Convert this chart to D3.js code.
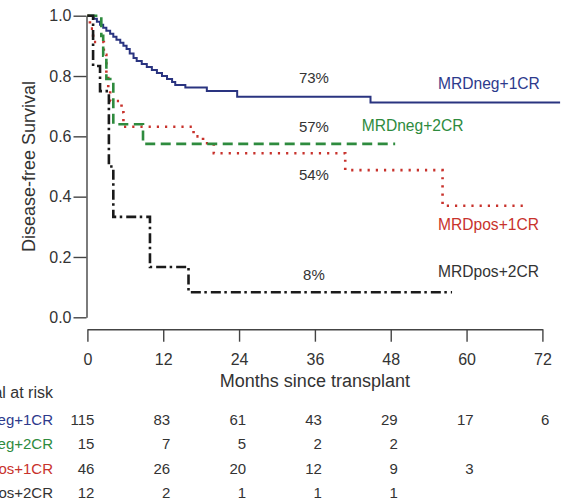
<!DOCTYPE html>
<html>
<head>
<meta charset="utf-8">
<script src="https://cdn.jsdelivr.net/npm/d3@7/dist/d3.min.js"></script>
<style>
  html, body { margin: 0; padding: 0; background: #fff; }
  svg text { font-family: "Liberation Sans", Arial, sans-serif; }
</style>
</head>
<body>
<svg id="chart" width="563" height="502"></svg>
<script>
// ---- data ----
const monthTicks = [0, 12, 24, 36, 48, 60, 72];
const survivalTicks = [0, 0.2, 0.4, 0.6, 0.8, 1.0];
const groups = ["MRDneg+1CR", "MRDneg+2CR", "MRDpos+1CR", "MRDpos+2CR"];
const finalLabels = ["73%", "57%", "54%", "8%"];

// step points [month, survival]
const negCR1 = [[0,1],[1.0,0.99],[1.5,0.98],[2.0,0.97],[2.5,0.96],[3.0,0.95],[3.6,0.94],[4.1,0.93],[4.6,0.92],[5.2,0.91],[5.7,0.90],[6.2,0.89],[6.7,0.875],[7.3,0.86],[7.8,0.85],[8.6,0.84],[9.4,0.83],[10.2,0.82],[11.0,0.81],[11.8,0.80],[12.6,0.79],[13.4,0.78],[13.9,0.77],[15.5,0.762],[18.9,0.75],[23.7,0.731],[44.8,0.712],[74.8,0.712]];
const negCR2 = [[0,1],[2.2,0.933],[2.5,0.867],[3.0,0.79],[4.1,0.64],[8.8,0.575],[48.7,0.575]];
const posCR1 = [[0,1],[0.4,0.957],[0.9,0.913],[2.6,0.87],[3.0,0.80],[3.3,0.76],[3.6,0.717],[5.4,0.68],[5.7,0.632],[16.8,0.60],[18.3,0.577],[20.0,0.544],[40.8,0.488],[56.2,0.37],[69.8,0.37]];
const posCR2 = [[0,1],[0.9,0.833],[2.0,0.75],[3.4,0.5],[4.1,0.333],[9.9,0.167],[16.0,0.083],[57.7,0.083]];

// numbers at risk per group at each month tick
const riskNegCR1 = [115, 83, 61, 43, 29, 17, 6];
const riskNegCR2 = [15, 7, 5, 2, 2];
const riskPosCR1 = [46, 26, 20, 12, 9, 3];
const riskPosCR2 = [12, 2, 1, 1, 1];

// ---- drawing ----
const svg = d3.select("#chart");
const x = d3.scaleLinear().domain([0, 72]).range([87.4, 542.4]);
const y = d3.scaleLinear().domain([0, 1]).range([317.3, 15.7]);

const axisColor = "#444";
const textColor = "#333";

// y axis
const gy = svg.append("g").attr("transform", "translate(86.5,0)")
  .call(d3.axisLeft(y).tickValues(survivalTicks).tickFormat(d3.format(".1f")).tickSize(13).tickPadding(2).tickSizeOuter(0));
gy.select(".domain").attr("stroke", axisColor).attr("stroke-width", 1.4);
gy.selectAll(".tick line").attr("stroke", axisColor).attr("stroke-width", 1.4);
gy.selectAll(".tick text").attr("fill", textColor).style("font-size", "16px");

// x axis
const gx = svg.append("g").attr("transform", "translate(0,329.3)")
  .call(d3.axisBottom(x).tickValues(monthTicks).tickSize(12.4).tickPadding(12).tickSizeOuter(0));
gx.select(".domain").attr("stroke", axisColor).attr("stroke-width", 1.4);
gx.selectAll(".tick line").attr("stroke", axisColor).attr("stroke-width", 1.4);
gx.selectAll(".tick text").attr("fill", textColor).style("font-size", "16px");

// axis titles
svg.append("text").attr("x", (x(0) + x(72)) / 2).attr("y", 386.5)
  .attr("text-anchor", "middle").attr("fill", textColor).style("font-size", "18px")
  .text("Months since transplant");
svg.append("text").attr("transform", `translate(35,${(y(0) + y(1)) / 2}) rotate(-90)`)
  .attr("text-anchor", "middle").attr("fill", textColor).style("font-size", "18px")
  .text("Disease-free Survival");

// curves
const line = d3.line().x(d => x(d[0])).y(d => y(d[1])).curve(d3.curveStepAfter);
const series = [
  { data: negCR1, color: "#2a3480", width: 2, dash: null },
  { data: posCR1, color: "#c8322c", width: 2.6, dash: "2.2,6" },
  { data: negCR2, color: "#2e8b3e", width: 2.6, dash: "10,5.5" },
  { data: posCR2, color: "#1a1a1a", width: 2.6, dash: "10,3.5,2.5,4" }
];
series.forEach(s => {
  svg.append("path").attr("d", line(s.data)).attr("fill", "none")
    .attr("stroke", s.color).attr("stroke-width", s.width)
    .attr("stroke-dasharray", s.dash);
});

// percent annotations
const pctY = [83, 131.7, 180, 280];
finalLabels.forEach((t, i) => {
  svg.append("text").attr("x", x(36) - 1).attr("y", pctY[i]).attr("text-anchor", "middle")
    .attr("fill", textColor).style("font-size", "15px").text(t);
});

// group labels
const labelColors = ["#2d3a8c", "#2e8b3e", "#c8322c", "#333"];
const labelPos = [[438, 89.3], [361.7, 130.7], [438, 230], [438, 277]];
groups.forEach((g, i) => {
  svg.append("text").attr("x", labelPos[i][0]).attr("y", labelPos[i][1])
    .attr("fill", labelColors[i]).style("font-size", "15.6px").text(g);
});

// number at risk table
svg.append("text").attr("x", 53).attr("y", 398).attr("text-anchor", "end")
  .attr("fill", textColor).style("font-size", "16px").text("Total at risk");
const riskRows = [riskNegCR1, riskNegCR2, riskPosCR1, riskPosCR2];
const rowY = [425, 449, 473.5, 498];
riskRows.forEach((row, i) => {
  svg.append("text").attr("x", 53).attr("y", rowY[i]).attr("text-anchor", "end")
    .attr("fill", labelColors[i]).style("font-size", "15px").text(groups[i]);
  row.forEach((n, j) => {
    svg.append("text").attr("x", x(monthTicks[j]) + 7).attr("y", rowY[i]).attr("text-anchor", "end")
      .attr("fill", textColor).style("font-size", "15px").text(n);
  });
});
</script>
</body>
</html>
